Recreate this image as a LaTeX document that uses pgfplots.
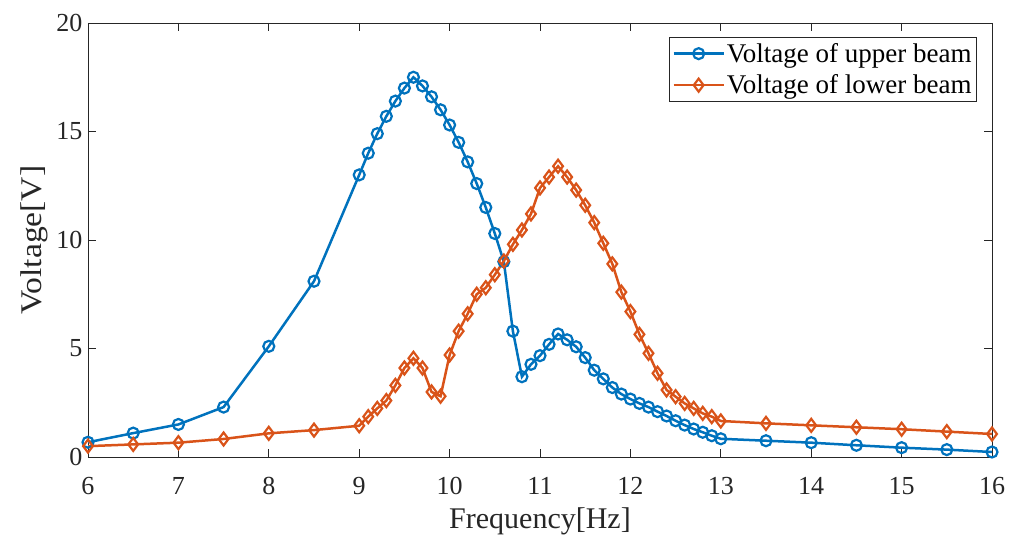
\documentclass[border=0pt]{standalone}
\usepackage{pgfplots}
\pgfplotsset{compat=1.18}
\usepackage{fontspec}
\setmainfont{Liberation Serif}
\definecolor{mblue}{rgb}{0,0.447,0.741}
\definecolor{morange}{rgb}{0.85,0.325,0.098}
\definecolor{axgray}{rgb}{0.15,0.15,0.15}
\begin{document}
\begin{tikzpicture}
\begin{axis}[
  scale only axis,
  width=904pt, height=434pt,
  xmin=6, xmax=16, ymin=0, ymax=20,
  xtick={6,7,...,16}, ytick={0,5,10,15,20},
  tick align=inside,
  major tick length=8pt,
  axis line style={axgray, line width=0.8pt},
  every tick/.style={axgray, line width=0.8pt},
  tick label style={font=\fontsize{26}{30}\selectfont, text=axgray},
  /pgf/number format/assume math mode=true,
  xticklabel style={yshift=-17pt},
  yticklabel style={xshift=-2pt},
  label style={font=\fontsize{30}{34}\selectfont, text=axgray},
  xlabel={Frequency[Hz]},
  ylabel={\scalebox{1.12}[1]{Voltage[V]}},
  xlabel style={yshift=-6pt},
  ylabel style={yshift=2pt},
  legend style={at={(rel axis cs:0.9834,0.9677)}, anchor=north east,
    font=\fontsize{27}{30}\selectfont, draw=axgray, line width=0.8pt,
    inner xsep=3pt, inner ysep=4pt, row sep=7pt},
  legend cell align=left,
  legend image code/.code={\draw[mark repeat=2,mark phase=2] plot coordinates {(0pt,0pt) (25pt,0pt) (50pt,0pt)};},
]
\coordinate (ll) at (rel axis cs:0,0);
\coordinate (ur) at (rel axis cs:1,1);
\addplot[mblue, line width=2.5pt, mark=o, mark size=5.5pt, mark options={line width=2.2pt}] coordinates {
(6,0.68) (6.5,1.1) (7,1.5) (7.5,2.3) (8,5.1) (8.5,8.1) (9,13.0)
(9.1,14.0) (9.2,14.9) (9.3,15.7) (9.4,16.4) (9.5,17.0) (9.6,17.5) (9.7,17.1) (9.8,16.6) (9.9,16.0)
(10.0,15.3) (10.1,14.5) (10.2,13.6) (10.3,12.6) (10.4,11.5) (10.5,10.3) (10.6,9.0) (10.7,5.8) (10.8,3.7) (10.9,4.27)
(11.0,4.67) (11.1,5.19) (11.2,5.67) (11.3,5.4) (11.4,5.08) (11.5,4.58) (11.6,4.0) (11.7,3.6) (11.8,3.2) (11.9,2.9)
(12.0,2.67) (12.1,2.47) (12.2,2.3) (12.3,2.09) (12.4,1.89) (12.5,1.67) (12.6,1.47) (12.7,1.29) (12.8,1.14) (12.9,0.98)
(13.0,0.84) (13.5,0.75) (14,0.66) (14.5,0.54) (15,0.43) (15.5,0.34) (16,0.23)
};
\addlegendentry{Voltage of upper beam}
\addplot[morange, line width=2.5pt, mark=diamond, mark size=6.5pt, mark options={line width=2.2pt}] coordinates {
(6,0.5) (6.5,0.58) (7,0.66) (7.5,0.83) (8,1.09) (8.5,1.24) (9,1.44)
(9.1,1.86) (9.2,2.24) (9.3,2.6) (9.4,3.3) (9.5,4.1) (9.6,4.55) (9.7,4.1) (9.8,3.0) (9.9,2.8)
(10.0,4.7) (10.1,5.8) (10.2,6.6) (10.3,7.5) (10.4,7.8) (10.5,8.4) (10.6,9.03) (10.7,9.8) (10.8,10.46) (10.9,11.2)
(11.0,12.4) (11.1,12.9) (11.2,13.4) (11.3,12.9) (11.4,12.3) (11.5,11.6) (11.6,10.8) (11.7,9.85) (11.8,8.9) (11.9,7.6)
(12.0,6.7) (12.1,5.65) (12.2,4.78) (12.3,3.86) (12.4,3.09) (12.5,2.78) (12.6,2.47) (12.7,2.24) (12.8,2.01) (12.9,1.86)
(13.0,1.66) (13.5,1.55) (14,1.46) (14.5,1.37) (15,1.28) (15.5,1.17) (16,1.06)
};
\addlegendentry{Voltage of lower beam}
\end{axis}
\pgfresetboundingbox
\useasboundingbox ([shift={(-88pt,-80pt)}]ll) rectangle ([shift={(27pt,23pt)}]ur);
\end{tikzpicture}
\end{document}
